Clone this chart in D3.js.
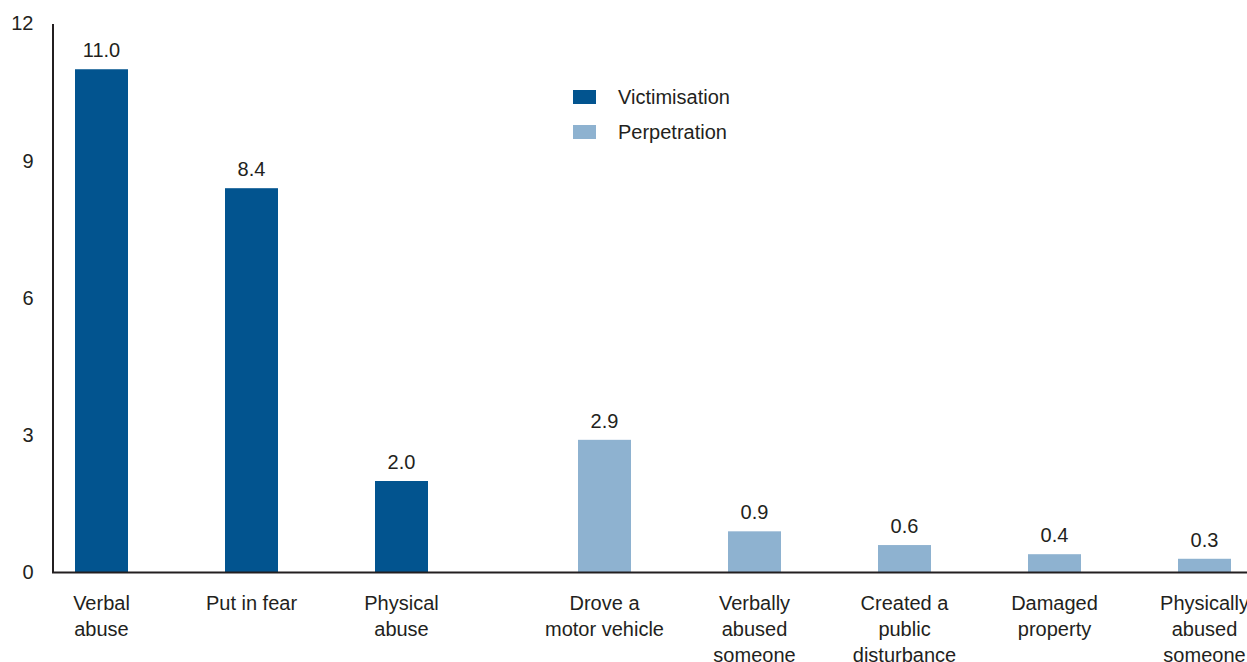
<!DOCTYPE html>
<html><head><meta charset="utf-8">
<script src="https://cdn.jsdelivr.net/npm/d3@7"></script>
<style>body{margin:0;background:#fff}svg{display:block}text{font-family:"Liberation Sans",Arial,sans-serif;fill:#231f20}</style>
</head><body>
<script>
const victimCategories = [["Verbal","abuse"],["Put in fear"],["Physical","abuse"]];
const victimValues = [11.0, 8.4, 2.0];
const perpCategories = [["Drove a","motor vehicle"],["Verbally","abused","someone"],["Created a","public","disturbance"],["Damaged","property"],["Physically","abused","someone"]];
const perpValues = [2.9, 0.9, 0.6, 0.4, 0.3];
const seriesNames = ["Victimisation","Perpetration"];
const seriesColors = ["#02548f","#8eb2d0"];
const yTicks = [0,3,6,9,12];

const W=1247,H=662,FS=20;
const svg=d3.select("body").append("svg").attr("width",W).attr("height",H);
const y=d3.scaleLinear().domain([0,12]).range([572.5,23.5]);
const pad=0.6467;
const xV=d3.scaleBand().domain(d3.range(victimValues.length)).range([75,428]).paddingInner(pad).paddingOuter(0);
const xP=d3.scaleBand().domain(d3.range(perpValues.length)).range([578,1231]).paddingInner(pad).paddingOuter(0);

const groups=[
 {x:xV,vals:victimValues,cats:victimCategories,color:seriesColors[0]},
 {x:xP,vals:perpValues,cats:perpCategories,color:seriesColors[1]}
];
groups.forEach(g=>{
  const gg=svg.append("g");
  gg.selectAll("rect").data(g.vals).join("rect")
    .attr("x",(d,i)=>g.x(i)).attr("width",g.x.bandwidth())
    .attr("y",d=>y(d)).attr("height",d=>y(0)-y(d)).attr("fill",g.color);
  gg.selectAll("text.val").data(g.vals).join("text").attr("class","val")
    .attr("x",(d,i)=>g.x(i)+g.x.bandwidth()/2).attr("y",d=>y(d)-12)
    .attr("text-anchor","middle").attr("font-size",FS).text(d=>d.toFixed(1));
  const lab=gg.selectAll("text.cat").data(g.cats).join("text").attr("class","cat")
    .attr("text-anchor","middle").attr("font-size",FS)
    .attr("transform",(d,i)=>`translate(${g.x(i)+g.x.bandwidth()/2},610)`);
  lab.selectAll("tspan").data(d=>d).join("tspan").attr("x",0).attr("dy",(d,i)=>i?26:0).text(d=>d);
});

// y axis
const yAxis=d3.axisLeft(y).tickValues(yTicks).tickSize(0).tickPadding(19);
const ya=svg.append("g").attr("transform","translate(52.5,0)").call(yAxis);
ya.select(".domain").attr("stroke","#231f20").attr("stroke-width",2);
ya.selectAll("text").attr("font-size",FS).attr("fill","#231f20").style("font-family","Liberation Sans, Arial, sans-serif");
// x baseline
svg.append("line").attr("x1",52).attr("x2",W).attr("y1",y(0)).attr("y2",y(0)).attr("stroke","#231f20").attr("stroke-width",2);

// legend
const leg=svg.append("g").attr("transform","translate(573,90)");
seriesNames.forEach((n,i)=>{
  leg.append("rect").attr("x",0).attr("y",i*35).attr("width",23).attr("height",14).attr("fill",seriesColors[i]);
  leg.append("text").attr("x",45).attr("y",i*35+14).attr("font-size",FS).text(n);
});
</script>
</body></html>
